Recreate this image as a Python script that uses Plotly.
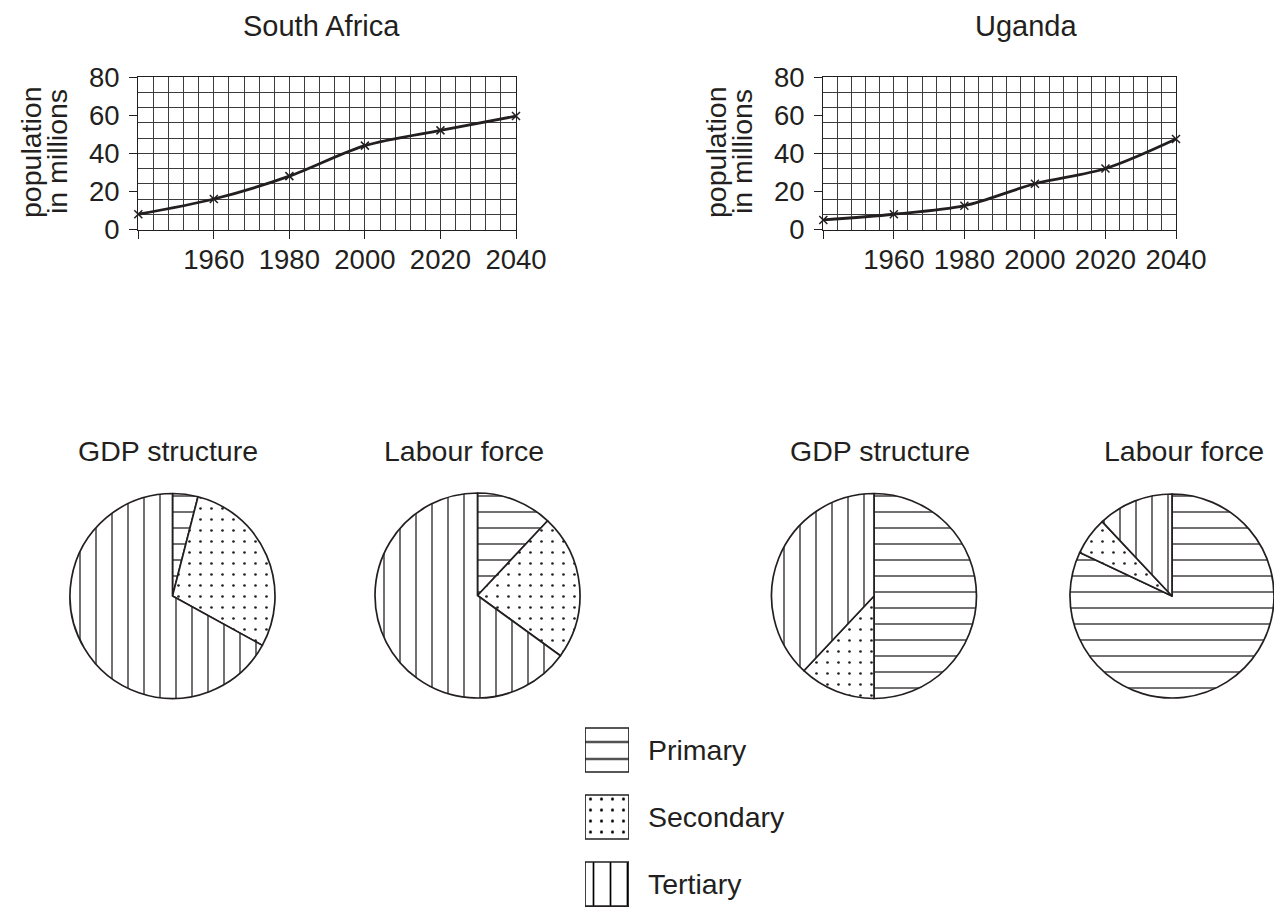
import plotly.graph_objects as go

W, H = 1282, 907
OFF = 8  # the page body adds an 8px margin around the figure


def px(x):
    return (x - OFF) / W


def py(y):
    return 1 - (y - OFF) / H


# ---------------- data ----------------
years = [1940, 1960, 1980, 2000, 2020, 2040]
sa_pop = [8, 16, 28, 44, 52, 59.5]
ug_pop = [5, 8, 12.5, 24, 32, 47.5]
year_ticks = [1940, 1960, 1980, 2000, 2020, 2040]
year_labels = ["", "1960", "1980", "2000", "2020", "2040"]
pop_ticks = [0, 20, 40, 60, 80]
pop_labels = ["0", "20", "40", "60", "80"]

sectors = ["Primary", "Secondary", "Tertiary"]
sa_gdp = [4, 29, 67]
sa_labour = [12, 23, 65]
ug_gdp = [50, 12, 38]
ug_labour = [82, 6, 12]
legend_swatch = [1, 1, 1]

# ---------------- style ----------------
FONT = "Liberation Sans, Arial, Helvetica, sans-serif"
INK = "#231f20"
GRID = "#3c3c3c"
TICK_FS = 27.5
TITLE_FS = 28.5

pat_shapes = ["-", ".", "|"]
pat_sizes = [16, 11, 16]
pat_solid = [0.08, 0.045, 0.08]

fig = go.Figure()

line_style = dict(color=INK, width=2.8, shape="spline", smoothing=0.9)
marker_style = dict(symbol="x-thin", size=8, color=INK, line=dict(color=INK, width=1.5))

fig.add_trace(go.Scatter(x=years, y=sa_pop, xaxis="x", yaxis="y", mode="lines+markers",
                         line=line_style, marker=marker_style, showlegend=False,
                         hoverinfo="skip", cliponaxis=False))
fig.add_trace(go.Scatter(x=years, y=ug_pop, xaxis="x2", yaxis="y2", mode="lines+markers",
                         line=line_style, marker=marker_style, showlegend=False,
                         hoverinfo="skip", cliponaxis=False))


def pie(vals, cx, cy, r):
    return go.Pie(values=vals, labels=sectors, sort=False, direction="clockwise",
                  rotation=0, textinfo="none", hoverinfo="skip", showlegend=False,
                  domain=dict(x=[px(cx - r), px(cx + r)], y=[py(cy + r), py(cy - r)]),
                  marker=dict(colors=["white"] * 3, line=dict(color=INK, width=1.7),
                              pattern=dict(shape=pat_shapes, size=pat_sizes,
                                           solidity=pat_solid, fgcolor=INK,
                                           bgcolor="white")))


fig.add_trace(pie(sa_gdp, 172.5, 596, 102.5))
fig.add_trace(pie(sa_labour, 477.5, 595.5, 102.5))
fig.add_trace(pie(ug_gdp, 874, 596, 102.5))
fig.add_trace(pie(ug_labour, 1172, 596, 102))

# legend swatches as a bar trace
fig.add_trace(go.Bar(x=legend_swatch, y=sectors, orientation="h", xaxis="x5", yaxis="y5",
                     width=[0.657] * 3, showlegend=False, hoverinfo="skip", cliponaxis=False,
                     marker=dict(color="white", line=dict(color=INK, width=1.7),
                                 pattern=dict(shape=pat_shapes, size=[17, 11, 17],
                                              solidity=[0.1, 0.06, 0.1], fgcolor="#000000",
                                              fgopacity=1, bgcolor="white"))))


def xax(x0, x1, anchor):
    return dict(domain=[px(x0), px(x1)], anchor=anchor, range=[1940, 2040],
                tickmode="array", tickvals=year_ticks, ticktext=year_labels,
                ticks="outside", ticklen=8, tickwidth=1.3, tickcolor=INK,
                ticklabelstandoff=-3,
                showgrid=True, gridcolor=GRID, gridwidth=1,
                minor=dict(tickmode="linear", tick0=1940, dtick=4, showgrid=True,
                           gridcolor=GRID, gridwidth=1, ticks="inside", ticklen=0),
                showline=True, linecolor=INK, linewidth=1.3, mirror=True,
                zeroline=False, fixedrange=True, automargin=False,
                tickfont=dict(size=TICK_FS, color=INK, family=FONT))


def yax(anchor):
    return dict(domain=[py(229.5), py(77)], anchor=anchor, range=[0, 80],
                tickmode="array", tickvals=pop_ticks, ticktext=pop_labels,
                ticks="outside", ticklen=8, tickwidth=1.3, tickcolor=INK,
                ticklabelstandoff=4,
                showgrid=False,
                minor=dict(tickmode="linear", tick0=0, dtick=8, showgrid=True,
                           gridcolor=GRID, gridwidth=1, ticks="inside", ticklen=0),
                showline=True, linecolor=INK, linewidth=1.3,
                mirror=True, zeroline=False, fixedrange=True, automargin=False,
                tickfont=dict(size=TICK_FS, color=INK, family=FONT))


annotations = []


def note(text, x, y, size=TITLE_FS, angle=0):
    annotations.append(dict(text=text, x=px(x), y=py(y), xref="paper", yref="paper",
                            showarrow=False, textangle=angle, xanchor="center",
                            yanchor="middle",
                            font=dict(size=size, color=INK, family=FONT)))


note("South Africa", 321, 26, size=29)
note("Uganda", 1026, 26, size=29)
note("population", 31, 152, angle=-90)
note("in millions", 57, 152, angle=-90)
note("population", 716, 152, angle=-90)
note("in millions", 742, 152, angle=-90)
note("GDP structure", 168, 451)
note("Labour force", 464, 451)
note("GDP structure", 880, 451)
note("Labour force", 1184, 451)

fig.update_layout(
    width=W, height=H, autosize=False,
    margin=dict(l=0, r=0, t=0, b=0, pad=0, autoexpand=False),
    paper_bgcolor="white", plot_bgcolor="white",
    font=dict(family=FONT, color=INK, size=TICK_FS),
    showlegend=False,
    xaxis=xax(138.3, 516, "y"),
    yaxis=yax("x"),
    xaxis2=xax(823.3, 1176, "y2"),
    yaxis2=yax("x2"),
    xaxis5=dict(domain=[px(585), px(629)], anchor="y5", range=[0, 1], visible=False,
                fixedrange=True, automargin=False),
    yaxis5=dict(domain=[py(907), py(716.5)], anchor="x5", type="category",
                range=[2.343, -0.5], side="right", ticks="", showgrid=False,
                showline=False, zeroline=False, fixedrange=True, automargin=False,
                ticklabelstandoff=18,
                tickfont=dict(size=TITLE_FS, color=INK, family=FONT)),
    annotations=annotations,
)

fig.write_html("out.html")
